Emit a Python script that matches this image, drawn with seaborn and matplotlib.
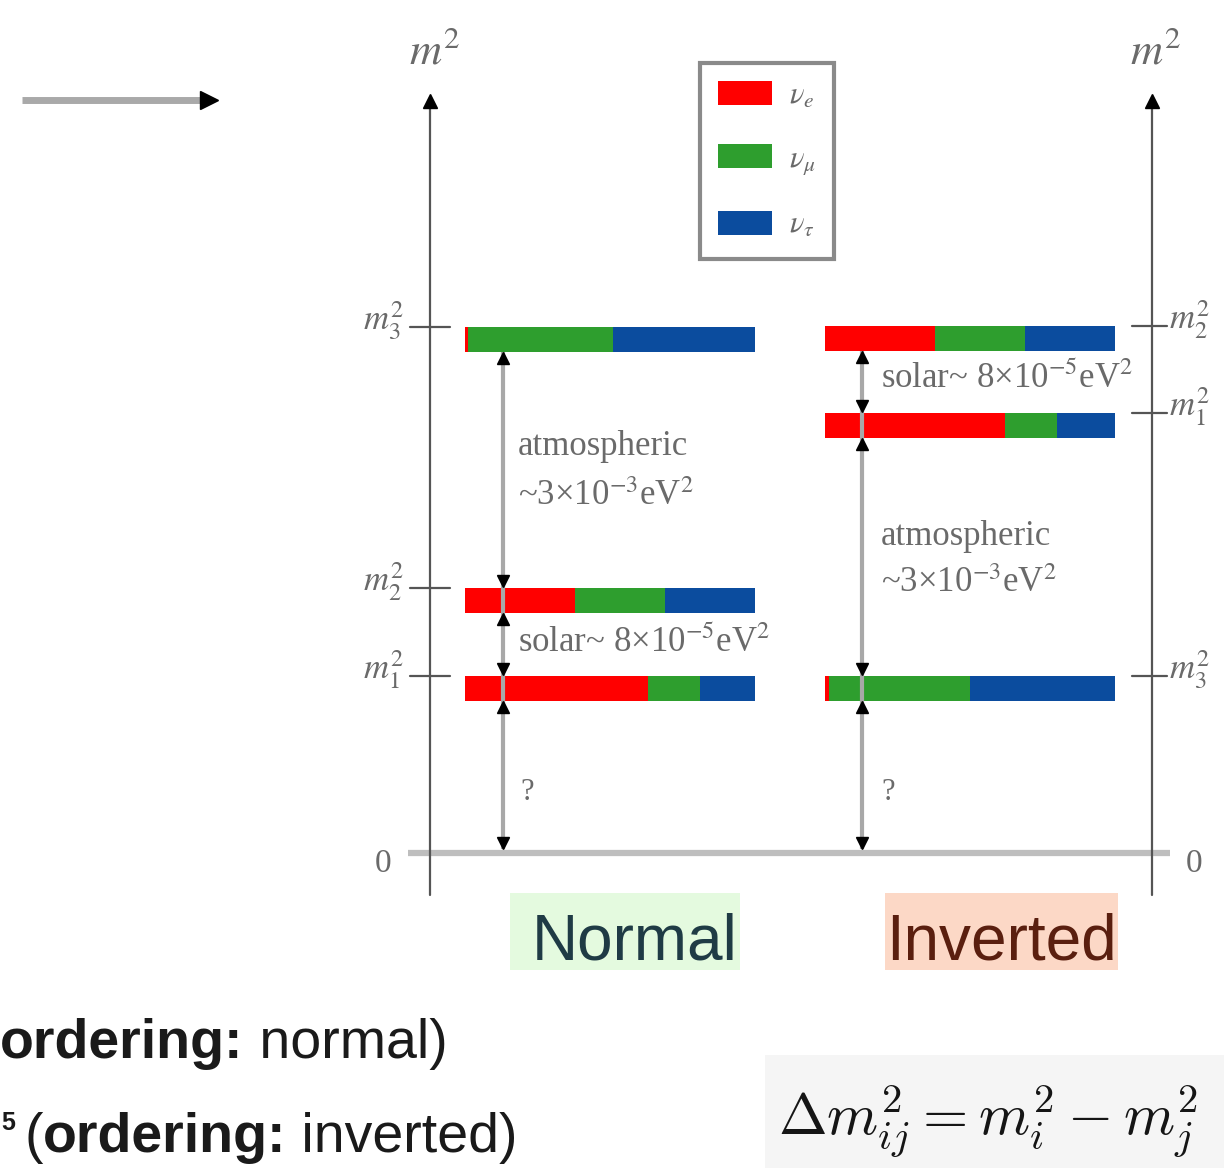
import numpy as np
import pandas as pd
import matplotlib
matplotlib.use("Agg")
import matplotlib.pyplot as plt
import seaborn as sns
from matplotlib.patches import Patch, Rectangle
from matplotlib import font_manager as fm

# ------------------------------------------------------------------ data
flavor_labels = [r"$\nu_e$", r"$\nu_\mu$", r"$\nu_\tau$"]
flavor_colors = ["#FF0000", "#2E9E2E", "#0B4C9E"]

states = ["m1", "m2", "m3"]
state_labels = [r"$m_1^2$", r"$m_2^2$", r"$m_3^2$"]

# schematic m^2 level of each mass state (arbitrary units, 0 = zero line)
normal_level = [1.67, 2.55, 5.16]
inverted_level = [4.30, 5.17, 1.67]

# flavour content of each mass state (fractions)
normal_e = [0.63, 0.38, 0.01]
normal_mu = [0.18, 0.31, 0.50]
normal_tau = [0.19, 0.31, 0.49]

inverted_e = [0.62, 0.38, 0.015]
inverted_mu = [0.18, 0.31, 0.485]
inverted_tau = [0.20, 0.31, 0.50]

ordering_names = ["Normal", "Inverted"]
atm_label = "atmospheric"
atm_value = r"~3×10$^{-3}$eV$^2$"
sol_label = r"solar~ 8×10$^{-5}$eV$^2$"
unknown_label = "?"
axis_label = r"$m^2$"
zero_label = "0"
formula = r"$\Delta m_{ij}^2 = m_i^2 - m_j^2$"
line1_bold, line1_rest = "ordering:", " normal)"
line2_open, line2_bold, line2_rest = "(", "ordering:", " inverted)"
line2_sup = "5"

# ------------------------------------------------------------------ style
sns.set_theme(style="white")
plt.rcParams["font.family"] = ["Liberation Serif", "DejaVu Serif"]
plt.rcParams["mathtext.fontset"] = "stix"


def has_font(name):
    try:
        fm.findfont(fm.FontProperties(family=name), fallback_to_default=False)
        return True
    except Exception:
        return False


NARROW = has_font("Liberation Sans Narrow")
SANS = ["Liberation Sans Narrow", "Liberation Sans"] if NARROW else ["Liberation Sans", "DejaVu Sans"]
BIG_FS = 55 if NARROW else 46
BOT_FS = 48 if NARROW else 40

GRAY_TXT = "#6A6A6A"
AXIS_C = "#555555"
ARROW_C = "#A8A8A8"

W, H = 1224, 1168
Y_TOP, Y_BOT = 8.55, -3.13
BH = 0.25          # bar thickness
TICK_OFF = 0.12    # tick sits slightly above bar centre


def Y(py):
    return (855 - py) / 100.0


fig = plt.figure(figsize=(W / 100, H / 100), dpi=100)
fig.patch.set_facecolor("white")

ax = fig.add_axes([0, 0, 1, 1], zorder=2)
ax.set_xlim(0, W)
ax.set_ylim(Y_BOT, Y_TOP)
ax.axis("off")
ax.patch.set_alpha(0)

# ------------------------------------------------------------------ bars (seaborn)
groups = [
    (normal_level, normal_e, normal_mu, normal_tau, 465),
    (inverted_level, inverted_e, inverted_mu, inverted_tau, 825),
]
for levels, e, mu, tau, x0 in groups:
    sub = fig.add_axes([x0 / W, 0, 290 / W, 1], zorder=1)
    sub.patch.set_alpha(0)
    df = pd.DataFrame({"state": states, "level": levels, "e": e, "mu": mu, "tau": tau})
    df["c_e"] = df["e"]
    df["c_mu"] = df["e"] + df["mu"]
    df["c_tau"] = df["c_mu"] + df["tau"]
    native = np.min(np.diff(np.sort(levels)))
    for col, color in zip(["c_tau", "c_mu", "c_e"], flavor_colors[::-1]):
        sns.barplot(data=df, x=col, y="level", orient="h", native_scale=True,
                    width=BH / native, color=color, saturation=1, errorbar=None,
                    linewidth=0, edgecolor="none", ax=sub)
    sub.set_xlim(0, 1)
    sub.set_ylim(Y_BOT, Y_TOP)
    sub.axis("off")

# ------------------------------------------------------------------ axes
for xa in (430, 1152):
    ax.plot([xa, xa], [Y(895), Y(108)], color=AXIS_C, lw=1.6, zorder=3)
    ax.plot([xa], [Y(101)], marker="^", color="black", markersize=10, zorder=4)
ax.text(435, Y(63), axis_label, ha="center", va="baseline", fontsize=32, color=GRAY_TXT)
ax.text(1156, Y(63), axis_label, ha="center", va="baseline", fontsize=32, color=GRAY_TXT)

for i, lvl in enumerate(normal_level):
    ax.plot([410, 450], [lvl + TICK_OFF] * 2, color=AXIS_C, lw=1.6, zorder=3)
    ax.text(404, lvl + TICK_OFF - 0.03, state_labels[i], ha="right", va="baseline",
            fontsize=25, color=GRAY_TXT)
for i, lvl in enumerate(inverted_level):
    ax.plot([1132, 1167], [lvl + TICK_OFF] * 2, color=AXIS_C, lw=1.6, zorder=3)
    ax.text(1169, lvl + TICK_OFF - 0.03, state_labels[i], ha="left", va="baseline",
            fontsize=25, color=GRAY_TXT)

# zero line
ax.plot([408, 1170], [0.02, 0.02], color="#BEBEBE", lw=4.5, solid_capstyle="butt", zorder=2)
ax.text(383, Y(872), zero_label, ha="center", va="baseline", fontsize=24, color=GRAY_TXT)
ax.text(1194, Y(872), zero_label, ha="center", va="baseline", fontsize=24, color=GRAY_TXT)

# ------------------------------------------------------------------ splitting arrows
MS = 9
HEAD = MS * (100 / 72) / 2 / 100.0


def double_arrows(x, levels):
    L = sorted(levels, reverse=True)
    segs = [(L[i] - BH / 2, L[i + 1] + BH / 2) for i in range(len(L) - 1)]
    segs.append((L[-1] - BH / 2, 0.06))
    ax.plot([x, x], [segs[0][0], segs[-1][1]], color=ARROW_C, lw=3, zorder=5,
            solid_capstyle="butt")
    for a, b in segs:
        ax.plot([x], [a - HEAD], marker="^", color="black", markersize=MS, zorder=6)
        ax.plot([x], [b + HEAD], marker="v", color="black", markersize=MS, zorder=6)
    return segs


double_arrows(503, normal_level)
double_arrows(862, inverted_level)

TFS = 25
ax.text(518, Y(455), atm_label, fontsize=TFS, color=GRAY_TXT, va="baseline")
ax.text(518, Y(505), atm_value, fontsize=TFS, color=GRAY_TXT, va="baseline")
ax.text(518, Y(652), sol_label, fontsize=TFS, color=GRAY_TXT, va="baseline")
ax.text(527, Y(800), unknown_label, fontsize=22, color=GRAY_TXT, va="baseline", ha="center")

ax.text(881, Y(388), sol_label, fontsize=TFS, color=GRAY_TXT, va="baseline")
ax.text(881, Y(545), atm_label, fontsize=TFS, color=GRAY_TXT, va="baseline")
ax.text(881, Y(592), atm_value, fontsize=TFS, color=GRAY_TXT, va="baseline")
ax.text(888, Y(800), unknown_label, fontsize=22, color=GRAY_TXT, va="baseline", ha="center")

# ------------------------------------------------------------------ legend
handles = [Patch(facecolor=c, edgecolor="none") for c in flavor_colors]
leg = ax.legend(handles, flavor_labels, loc="upper left",
                bbox_to_anchor=(700 / W, 1 - 63 / H), bbox_transform=ax.transAxes,
                borderaxespad=0, fontsize=22, handlelength=1.75, handleheight=0.82,
                handletextpad=0.55, labelspacing=1.1, borderpad=0.6,
                frameon=True, fancybox=False, framealpha=1, labelcolor=GRAY_TXT)
leg.get_frame().set_edgecolor("#8A8A8A")
leg.get_frame().set_linewidth(3)

# ------------------------------------------------------------------ top-left arrow
ax.plot([22, 202], [Y(100)] * 2, color="#A9A9A9", lw=5, solid_capstyle="butt")
ax.plot([209], [Y(100)], marker=">", color="black", markersize=13)

# ------------------------------------------------------------------ ordering tags
ax.add_patch(Rectangle((510, Y(970)), 230, 0.77, facecolor="#E4FADF", edgecolor="none", zorder=1))
ax.add_patch(Rectangle((885, Y(970)), 233, 0.77, facecolor="#FCD8C6", edgecolor="none", zorder=1))
ax.text(635, Y(960), ordering_names[0], ha="center", va="baseline", fontsize=BIG_FS,
        family=SANS, color="#1F3B45", zorder=2)
ax.text(1001, Y(960), ordering_names[1], ha="center", va="baseline", fontsize=BIG_FS,
        family=SANS, color="#5A1F0F", zorder=2)

# ------------------------------------------------------------------ bottom text
t1 = ax.text(0, Y(1058), line1_bold, fontsize=BOT_FS, family=SANS, fontweight="bold",
             color="#1A1A1A", va="baseline", ha="left")
ax.annotate(line1_rest, xy=(1, 0), xycoords=t1, fontsize=BOT_FS, family=SANS,
            color="#1A1A1A", va="bottom", ha="left")

ax.text(1, Y(1130), line2_sup, fontsize=18, family=SANS, fontweight="bold",
        color="#1A1A1A", va="baseline", ha="left")
t2 = ax.text(24, Y(1152), line2_open, fontsize=BOT_FS, family=SANS,
             color="#1A1A1A", va="baseline", ha="left")
t3 = ax.annotate(line2_bold, xy=(1, 0), xycoords=t2, fontsize=BOT_FS, family=SANS,
                 fontweight="bold", color="#1A1A1A", va="bottom", ha="left")
ax.annotate(line2_rest, xy=(1, 0), xycoords=t3, fontsize=BOT_FS, family=SANS,
            color="#1A1A1A", va="bottom", ha="left")

# formula box
ax.add_patch(Rectangle((765, Y(1168)), 459, 1.13, facecolor="#F5F5F5", edgecolor="none", zorder=1))
ax.text(778, Y(1135), formula, fontsize=42, math_fontfamily="cm", color="#151515",
        va="baseline", ha="left", zorder=2)

fig.savefig("out.png", dpi=100, facecolor="white")
